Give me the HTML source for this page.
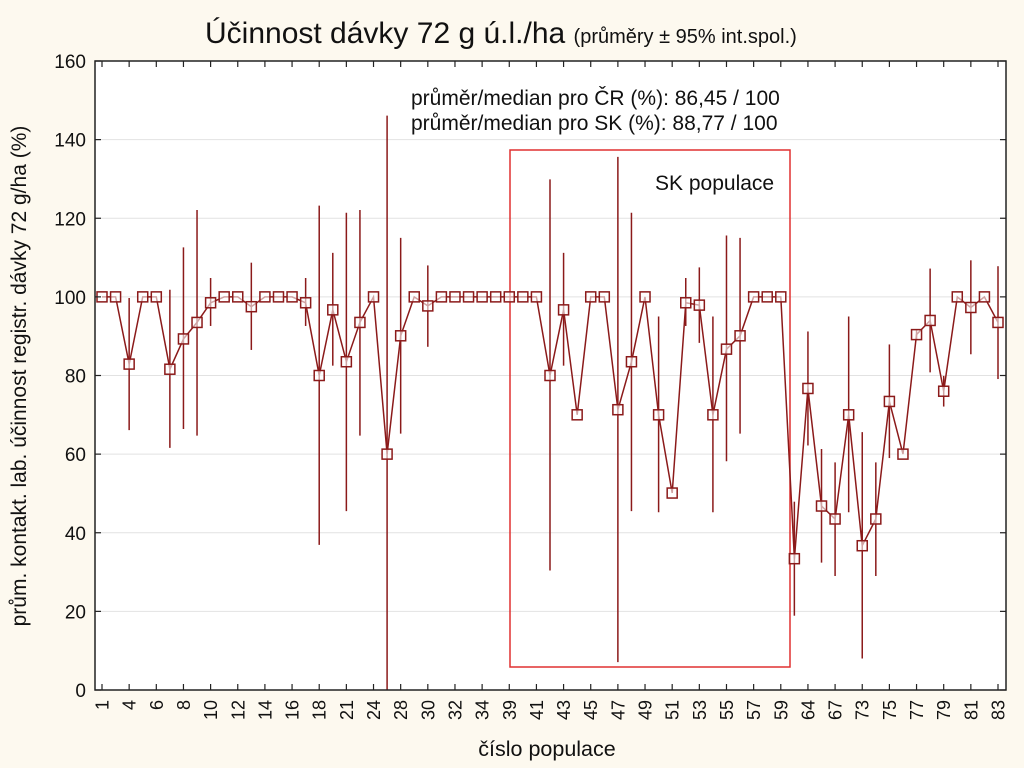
<!DOCTYPE html>
<html><head><meta charset="utf-8">
<style>
html,body{margin:0;padding:0;background:#fdf9ef;}
svg{display:block;font-family:"Liberation Sans",sans-serif;}
</style></head>
<body>
<svg id="chart" width="1024" height="768" viewBox="0 0 1024 768" xmlns="http://www.w3.org/2000/svg">
<rect x="0" y="0" width="1024" height="768" fill="#fdf9ef"/>
<rect x="95" y="61" width="911" height="629" fill="#ffffff"/>
<g id="grid"></g>
<rect x="510" y="150" width="280" height="517" fill="none" stroke="#e03030" stroke-width="1.5"/>
<text x="655" y="190" font-size="21" fill="#111">SK populace</text>
<g id="marks"></g>
<rect x="95" y="61" width="911" height="629" fill="none" stroke="#222" stroke-width="1.5"/>
<g id="axes"></g>
<text x="205" y="43" font-size="30" fill="#111">Účinnost dávky 72 g ú.l./ha <tspan font-size="20">(průměry ± 95% int.spol.)</tspan></text>
<text x="411" y="105" font-size="21" fill="#111">průměr/median pro ČR (%): 86,45 / 100</text>
<text x="411" y="130" font-size="21" fill="#111">průměr/median pro SK (%): 88,77 / 100</text>
<text x="547" y="756" font-size="21.5" text-anchor="middle" fill="#111">číslo populace</text>
<text transform="translate(26,376) rotate(-90)" font-size="21" text-anchor="middle" fill="#111">prům. kontakt. lab. účinnost registr. dávky 72 g/ha (%)</text>
</svg>
<script>
const categories = ["1","2","4","5","6","7","8","9","10","11","12","13","14","15","16","17","18","19","21","22","24","26","28","29","30","31","32","33","34","35","39","40","41","42","43","44","45","46","47","48","49","50","51","52","53","54","55","56","57","58","59","63","64","65","67","68","73","74","75","76","77","78","79","80","81","82","83"];
const tickLabels = ["1","4","6","8","10","12","14","16","18","21","24","28","30","32","34","39","41","43","45","47","49","51","53","55","57","59","64","67","73","75","77","79","81","83"];
const means = [100,100,82.9,100,100,81.6,89.3,93.5,98.5,100,100,97.5,100,100,100,98.5,80,96.7,83.5,93.5,100,60,90.1,100,97.7,100,100,100,100,100,100,100,100,80,96.7,70,100,100,71.3,83.5,100,70,50.1,98.5,97.9,70,86.7,90.1,100,100,100,33.4,76.7,46.8,43.5,70,36.7,43.5,73.4,60,90.4,94,76,100,97.3,100,93.5];
const lower = [null,null,66.1,null,null,61.6,66.4,64.7,92.6,null,null,86.5,null,null,null,92.6,36.9,82.5,45.5,64.7,null,0,65.2,null,87.3,null,null,null,null,null,null,null,null,30.4,82.5,null,null,null,7.1,45.5,null,45.2,null,92.6,88.3,45.2,58.2,65.2,null,null,null,18.9,62.2,32.4,29.0,45.2,8.0,29.0,59,null,89,80.8,72.1,null,85.4,null,79.1];
const upper = [null,null,99.7,null,null,101.8,112.6,122.1,104.8,null,null,108.7,null,null,null,104.8,123.2,111.2,121.4,122.1,null,146.1,115,null,108,null,null,null,null,null,null,null,null,129.9,111.2,null,null,null,135.6,121.4,null,95,null,104.8,107.5,95,115.6,115,null,null,null,47.9,91.2,61.3,57.9,95,65.6,57.9,87.9,null,91.5,107.2,79.9,null,109.3,null,107.8];
const yTicks = [0,20,40,60,80,100,120,140,160];

const NS = "http://www.w3.org/2000/svg";
const X0 = 102, X1 = 998, Y0 = 690, Y1 = 61, YMAX = 160;
function xs(i){ return X0 + i * (X1 - X0) / (categories.length - 1); }
function ys(v){ return Y0 - Math.max(0, Math.min(YMAX, v)) * (Y0 - Y1) / YMAX; }
function mk(tag, attrs, parent){ const e = document.createElementNS(NS, tag); for (const k in attrs) e.setAttribute(k, attrs[k]); parent.appendChild(e); return e; }

const grid = document.getElementById('grid');
const axes = document.getElementById('axes');
const marks = document.getElementById('marks');

yTicks.forEach(v => {
  const y = ys(v);
  if (v > 0 && v < 160) {
    const g = mk('line', {x1:95, x2:1006, y1:y, y2:y, stroke:'#e2e2e2', 'stroke-width':1}, grid);
    
    
  }
  const t = mk('line', {x1:95, x2:101, y1:y, y2:y, stroke:'#222', 'stroke-width':1.2}, axes);
  
  
  const t2 = mk('line', {x1:1000, x2:1006, y1:y, y2:y, stroke:'#222', 'stroke-width':1.2}, axes);
  
  
  const lb = mk('text', {x:86, y:y + 7, 'font-size':19, 'text-anchor':'end', fill:'#111'}, axes);
  lb.textContent = v;
  
  
});

tickLabels.forEach((lab, k) => {
  const x = xs(k * 2);
  const t = mk('line', {x1:x, x2:x, y1:684, y2:690, stroke:'#222', 'stroke-width':1.2}, axes);
  
  
  const t2 = mk('line', {x1:x, x2:x, y1:61, y2:67, stroke:'#222', 'stroke-width':1.2}, axes);
  
  
  const lb = mk('text', {transform:'translate(' + (x + 6.5) + ',700) rotate(-90)', 'font-size':18, 'text-anchor':'end', fill:'#111'}, axes);
  lb.textContent = lab;
  
  
});

const col = '#8b1a1a';
let d = '';
means.forEach((v, i) => { d += (i ? 'L' : 'M') + xs(i).toFixed(1) + ',' + ys(v).toFixed(1); });
const ln = mk('path', {d:d, fill:'none', stroke:col, 'stroke-width':1.5}, marks);



means.forEach((v, i) => {
  const x = xs(i);
  if (lower[i] !== null && upper[i] !== null) {
    const eb = mk('line', {x1:x, x2:x, y1:ys(upper[i]), y2:ys(lower[i]), stroke:col, 'stroke-width':1.5}, marks);
    
    
  }
  const p = mk('rect', {x:x - 5, y:ys(v) - 5, width:10, height:10, fill:'#fff', 'fill-opacity':0.6, stroke:col, 'stroke-width':1.5}, marks);
  
  
});
</script>
</body></html>
